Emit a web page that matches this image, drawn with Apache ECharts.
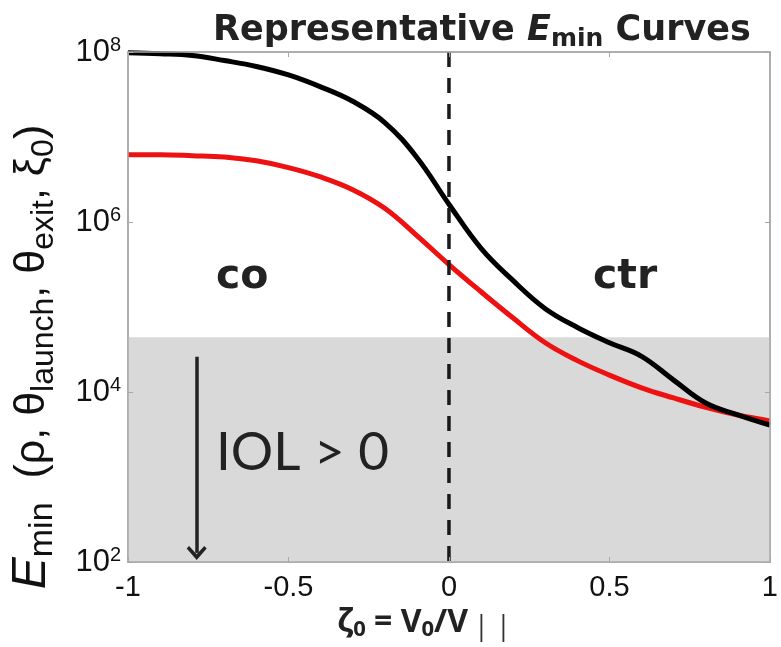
<!DOCTYPE html>
<html>
<head>
<meta charset="utf-8">
<script src="https://cdn.jsdelivr.net/npm/echarts@6/dist/echarts.min.js"></script>
<style>
  html, body { margin: 0; padding: 0; background: #fff; }
  #chart { width: 781px; height: 647px; }
</style>
</head>
<body>
<div id="chart"></div>
<script>
// zeta_0 = V_0 / V_par sample positions
const zeta = [-1, -0.9, -0.8, -0.7, -0.6, -0.5, -0.4, -0.3, -0.2, -0.1, 0,
              0.1, 0.2, 0.3, 0.4, 0.5, 0.6, 0.7, 0.8, 0.9, 1];

// E_min along zeta_0 for the two representative cases
const eminBlack = [9.77e7, 9.55e7, 9.12e7, 7.94e7, 6.76e7, 5.37e7, 3.89e7, 2.63e7, 1.48e7, 5.75e6, 1.62e6,
                   4.9e5, 2.04e5, 9.55e4, 5.75e4, 3.80e4, 2.63e4, 1.38e4, 7.41e3, 5.37e3, 4.07e3];
const eminRed = [6.17e6, 6.17e6, 6.03e6, 5.82e6, 5.25e6, 4.37e6, 3.39e6, 2.40e6, 1.45e6, 6.92e5, 3.16e5,
                 1.51e5, 7.41e4, 3.80e4, 2.34e4, 1.58e4, 1.12e4, 8.51e3, 6.61e3, 5.37e3, 4.57e3];

// IOL > 0 region: everything below this E_min level
const iolBand = [100, 4.4e4];
// arrow marking the IOL > 0 direction
const iolArrowX = -0.786;
const iolArrowY = [2.6e4, 128];
// co / ctr divider at zeta_0 = 0
const dividerX = 0;

const xTicks = { min: -1, max: 1, interval: 0.5 };
const yTicks = { min: 1e2, max: 1e8, interval: 2 };

const frameColor = '#a8a8a8';
const chevron = 'path://M10,0 L20,10 L17.6,12.4 L10,5 L2.4,12.4 L0,10 Z';

const chart = echarts.init(document.getElementById('chart'), null, { renderer: 'canvas' });

const supLabel = v => '{b|10}{s|' + Math.round(Math.log10(v)) + '}';

const frameLine = { show: true, onZero: false, lineStyle: { color: frameColor, width: 1.5 } };
const frameTick = { show: true, inside: true, length: 5, lineStyle: { color: frameColor } };

const option = {
  animation: false,
  backgroundColor: '#ffffff',
  title: {
    text: '{a|Representative }{e|E}{m|min}{a| Curves}',
    left: 208,
    top: 5,
    textStyle: {
      rich: {
        a: { fontFamily: 'DejaVu Sans', fontWeight: 'bold', fontSize: 35, color: '#222', lineHeight: 42 },
        e: { fontFamily: 'DejaVu Sans', fontWeight: 'bold', fontStyle: 'italic', fontSize: 35, color: '#222', lineHeight: 42 },
        m: { fontFamily: 'DejaVu Sans', fontWeight: 'bold', fontSize: 25, color: '#222', lineHeight: 28, verticalAlign: 'bottom' }
      }
    }
  },
  grid: { left: 126, right: 9, top: 52, bottom: 85, containLabel: false,
          show: true, borderColor: frameColor, borderWidth: 1.5 },
  xAxis: [{
    type: 'value', min: xTicks.min, max: xTicks.max, interval: xTicks.interval,
    position: 'bottom', z: 5,
    name: '{z|ζ}{u|0}{t| = V}{u|0}{t|/V}{p|| |}',
    nameLocation: 'middle', nameGap: 30,
    nameTextStyle: {
      padding: [0, 50, 0, 0],
      rich: {
        z: { fontFamily: 'Open Sans', fontWeight: 'bold', fontSize: 32, color: '#222', lineHeight: 36 },
        t: { fontFamily: 'Open Sans', fontWeight: 'bold', fontSize: 32, color: '#222', lineHeight: 36 },
        u: { fontFamily: 'Open Sans', fontWeight: 'bold', fontSize: 22, color: '#222', lineHeight: 26, verticalAlign: 'bottom' },
        p: { fontFamily: 'Open Sans', fontSize: 27, color: '#333', lineHeight: 24, verticalAlign: 'bottom', padding: [0, 0, 0, 6] }
      }
    },
    axisLine: frameLine,
    axisTick: frameTick,
    axisLabel: { fontFamily: 'Liberation Sans', fontSize: 29, color: '#111', margin: 11 },
    splitLine: { show: false }
  }, {
    type: 'value', min: xTicks.min, max: xTicks.max, interval: xTicks.interval,
    position: 'top', z: 5,
    axisLine: frameLine,
    axisTick: frameTick,
    axisLabel: { show: false },
    splitLine: { show: false }
  }],
  yAxis: [{
    type: 'log', logBase: 10, min: yTicks.min, max: yTicks.max, interval: yTicks.interval,
    position: 'left', z: 5,
    name: '{e|E}{m|min}{t|  (ρ, θ}{s|launch}{t|, θ}{s|exit}{t|, ξ}{s|0}{t|)}',
    nameLocation: 'middle', nameRotate: 90, nameGap: 68,
    nameTextStyle: {
      padding: [0, 100, 0, 0],
      rich: {
        e: { fontFamily: 'Liberation Sans', fontStyle: 'italic', fontSize: 48, color: '#111', lineHeight: 56 },
        m: { fontFamily: 'Liberation Sans', fontSize: 34, color: '#111', lineHeight: 36, verticalAlign: 'bottom' },
        t: { fontFamily: 'Liberation Sans', fontSize: 43, color: '#111', lineHeight: 56 },
        s: { fontFamily: 'Liberation Sans', fontSize: 32, color: '#111', lineHeight: 34, verticalAlign: 'bottom' }
      }
    },
    axisLine: frameLine,
    axisTick: frameTick,
    axisLabel: {
      margin: 7,
      formatter: supLabel,
      rich: {
        b: { fontFamily: 'Liberation Sans', fontSize: 31, color: '#111', lineHeight: 34 },
        s: { fontFamily: 'Liberation Sans', fontSize: 20, color: '#111', lineHeight: 20, verticalAlign: 'top' }
      }
    },
    splitLine: { show: false },
    minorTick: { show: false }
  }, {
    type: 'log', logBase: 10, min: yTicks.min, max: yTicks.max, interval: yTicks.interval,
    position: 'right', z: 5,
    axisLine: frameLine,
    axisTick: frameTick,
    axisLabel: { show: false },
    splitLine: { show: false }
  }],
  series: [
    {
      // shaded IOL > 0 region
      name: 'regions',
      type: 'line',
      xAxisIndex: 0, yAxisIndex: 0,
      data: [],
      z: 1,
      silent: true,
      markArea: {
        silent: true,
        itemStyle: { color: '#d9d9d9' },
        data: [[{ xAxis: xTicks.min, yAxis: iolBand[0] }, { xAxis: xTicks.max, yAxis: iolBand[1] }]]
      }
    },
    {
      // dashed co / ctr divider, spanning the full E_min range
      name: 'divider',
      type: 'custom',
      xAxisIndex: 0, yAxisIndex: 0,
      data: [[dividerX, yTicks.max, yTicks.min]],
      z: 4,
      silent: true,
      clip: false,
      renderItem: (params, api) => {
        const top = api.coord([api.value(0), api.value(1)]);
        const bottom = api.coord([api.value(0), api.value(2)]);
        return {
          type: 'line',
          shape: { x1: top[0], y1: top[1], x2: bottom[0], y2: bottom[1] },
          style: { stroke: '#1a1a1a', lineWidth: 3.5, lineDash: [15, 11], fill: null }
        };
      }
    },
    {
      name: 'arrow',
      type: 'line',
      xAxisIndex: 0, yAxisIndex: 0,
      data: [],
      z: 4,
      silent: true,
      markLine: {
        silent: true,
        symbol: ['none', chevron],
        symbolSize: [20, 14],
        label: { show: false },
        lineStyle: { color: '#222', width: 3.5, type: 'solid' },
        emphasis: { disabled: true },
        data: [[{ coord: [iolArrowX, iolArrowY[0]] }, { coord: [iolArrowX, iolArrowY[1]] }]]
      }
    },
    {
      name: 'red',
      type: 'line',
      xAxisIndex: 0, yAxisIndex: 0,
      data: zeta.map((x, i) => [x, eminRed[i]]),
      smooth: 0.4,
      showSymbol: false,
      z: 3,
      lineStyle: { color: '#ee1111', width: 5 }
    },
    {
      name: 'black',
      type: 'line',
      xAxisIndex: 0, yAxisIndex: 0,
      data: zeta.map((x, i) => [x, eminBlack[i]]),
      smooth: 0.4,
      showSymbol: false,
      z: 3,
      lineStyle: { color: '#000000', width: 5 }
    }
  ],
  graphic: [
    { type: 'text', left: 216, top: 257, z: 10,
      style: { text: 'co', fontFamily: 'DejaVu Sans', fontWeight: 'bold', fontSize: 41, fill: '#222' } },
    { type: 'text', left: 593, top: 257, z: 10,
      style: { text: 'ctr', fontFamily: 'DejaVu Sans', fontWeight: 'bold', fontSize: 41, fill: '#222' } },
    { type: 'text', left: 216, top: 426, z: 10,
      style: { text: 'IOL > 0', fontFamily: 'Lato', fontSize: 53, fill: '#222' } }
  ]
};

chart.setOption(option);
</script>
</body>
</html>
